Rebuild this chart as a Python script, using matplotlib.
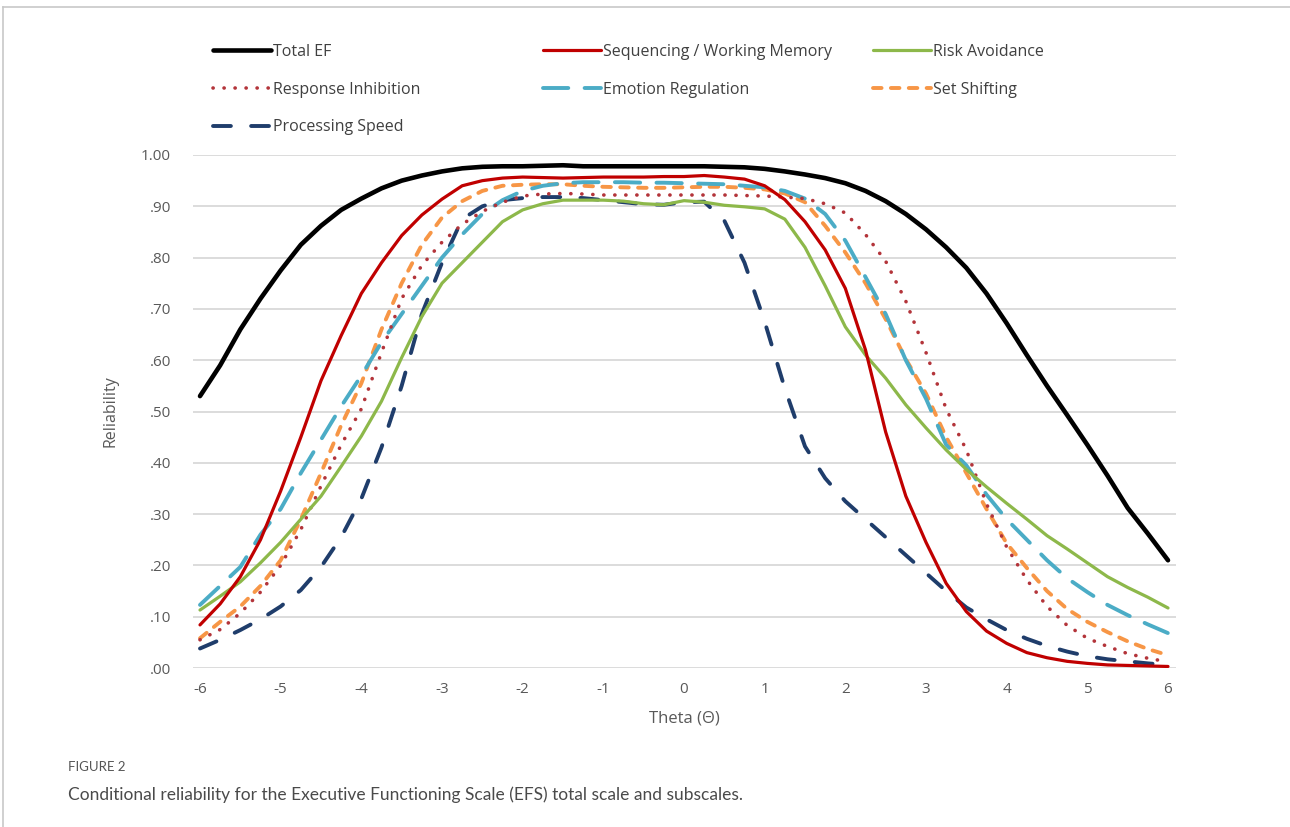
import numpy as np
import matplotlib.pyplot as plt
from matplotlib.lines import Line2D
from matplotlib.ticker import FuncFormatter

plt.rcParams['font.family'] = ['Open Sans', 'DejaVu Sans']
plt.rcParams['axes.unicode_minus'] = False

# theta grid (quarter steps) and conditional reliability
theta = [-6, -5.75, -5.5, -5.25, -5, -4.75, -4.5, -4.25, -4, -3.75, -3.5, -3.25,
         -3, -2.75, -2.5, -2.25, -2, -1.75, -1.5, -1.25, -1, -0.75, -0.5, -0.25,
         0, 0.25, 0.5, 0.75, 1, 1.25, 1.5, 1.75, 2, 2.25, 2.5, 2.75,
         3, 3.25, 3.5, 3.75, 4, 4.25, 4.5, 4.75, 5, 5.25, 5.5, 5.75, 6]

total_ef = [.53, .59, .66, .72, .775, .825, .862, .893, .915, .935, .95, .96,
            .968, .974, .977, .978, .978, .979, .98, .978, .978, .978, .978, .978,
            .978, .978, .977, .976, .973, .968, .962, .955, .945, .93, .91, .885,
            .855, .82, .78, .73, .672, .61, .55, .493, .435, .375, .312, .262, .21]
seq_wm = [.084, .125, .178, .25, .345, .45, .56, .648, .73, .79, .843, .883,
          .914, .94, .95, .955, .957, .956, .955, .956, .957, .957, .957, .958,
          .958, .96, .957, .953, .94, .913, .87, .815, .74, .62, .46, .335,
          .245, .165, .11, .072, .048, .03, .02, .013, .009, .006, .005, .004, .003]
risk_avoid = [.113, .14, .168, .205, .245, .29, .335, .393, .452, .52, .605, .685,
              .75, .79, .83, .87, .893, .905, .912, .912, .912, .91, .905, .903,
              .911, .908, .902, .899, .895, .875, .82, .745, .665, .61, .565, .513,
              .468, .425, .387, .353, .321, .29, .258, .232, .205, .178, .157, .138, .117]
resp_inhib = [.055, .075, .107, .148, .20, .27, .355, .435, .505, .615, .72, .785,
              .83, .865, .89, .908, .92, .924, .925, .924, .922, .922, .922, .922,
              .922, .922, .922, .921, .92, .918, .915, .905, .887, .845, .793, .715,
              .615, .505, .425, .32, .236, .172, .12, .083, .058, .042, .028, .019, .012]
emotion_reg = [.123, .16, .197, .26, .31, .38, .445, .51, .57, .635, .69, .745,
               .80, .845, .885, .912, .93, .94, .945, .947, .947, .947, .946, .946,
               .945, .944, .943, .94, .937, .93, .915, .885, .833, .762, .69, .60,
               .525, .435, .395, .338, .29, .25, .21, .175, .148, .123, .103, .085, .068]
set_shift = [.058, .09, .12, .16, .21, .29, .38, .473, .555, .66, .75, .825,
             .878, .91, .93, .94, .942, .943, .943, .94, .938, .937, .936, .936,
             .937, .938, .938, .936, .933, .925, .908, .862, .81, .75, .68, .602,
             .535, .45, .38, .31, .243, .195, .15, .115, .09, .07, .052, .037, .025]
proc_speed = [.038, .055, .074, .095, .12, .152, .197, .255, .33, .43, .55, .69,
              .79, .875, .90, .912, .916, .918, .918, .916, .912, .908, .904, .903,
              .908, .909, .872, .79, .675, .545, .432, .37, .325, .29, .255, .22,
              .185, .15, .118, .095, .074, .057, .043, .032, .023, .017, .013, .009, .006]

yticks = [0, .1, .2, .3, .4, .5, .6, .7, .8, .9, 1.0]
xticks = [-6, -5, -4, -3, -2, -1, 0, 1, 2, 3, 4, 5, 6]

fig = plt.figure(figsize=(12.9, 8.27), dpi=100)
ax = fig.add_axes([193 / 1290, 1 - 668 / 827, (1176 - 193) / 1290, (668 - 155) / 827])

unit = (1168 - 200) / 12
ax.set_xlim(-6 - 7 / unit, 6 + 8 / unit)
ax.set_ylim(0, 1)

styles = {
    'Total EF': dict(color='black', lw=3.3, solid_capstyle='round'),
    'Sequencing / Working Memory': dict(color='#c00000', lw=2.3, solid_capstyle='round'),
    'Risk Avoidance': dict(color='#8db84a', lw=2.3, solid_capstyle='round'),
    'Response Inhibition': dict(color='#b3343a', lw=2.6, dashes=(0.05, 3.0),
                                dash_capstyle='round'),
    'Emotion Regulation': dict(color='#4bacc6', lw=2.8, dashes=(6.5, 4.2),
                               dash_capstyle='round'),
    'Set Shifting': dict(color='#f79646', lw=2.8, dashes=(2.2, 2.4),
                         dash_capstyle='round'),
    'Processing Speed': dict(color='#1f3d6b', lw=2.8, dashes=(4.6, 5.2),
                             dash_capstyle='round'),
}
series = {
    'Total EF': total_ef,
    'Sequencing / Working Memory': seq_wm,
    'Risk Avoidance': risk_avoid,
    'Response Inhibition': resp_inhib,
    'Emotion Regulation': emotion_reg,
    'Set Shifting': set_shift,
    'Processing Speed': proc_speed,
}
order = ['Processing Speed', 'Set Shifting', 'Emotion Regulation', 'Response Inhibition',
         'Risk Avoidance', 'Sequencing / Working Memory', 'Total EF']
for name in order:
    ax.plot(theta, series[name], label=name, **styles[name])

# axes styling like excel
for s in ax.spines.values():
    s.set_visible(False)
ax.set_yticks(yticks)
ax.set_xticks(xticks)
ax.yaxis.set_major_formatter(FuncFormatter(lambda v, p: f"{v:.2f}" if v >= 1 else f"{v:.2f}"[1:]))
ax.grid(axis='y', color='#d9d9d9', lw=1.3)
ax.set_axisbelow(True)
ax.tick_params(length=0, labelsize=11, labelcolor='#595959')
ax.tick_params(axis='y', pad=16)
ax.tick_params(axis='x', pad=10)
ax.set_ylabel('Reliability', fontsize=11.5, color='#595959', labelpad=16)
ax.set_xlabel('Theta (\u0398)', fontsize=12, color='#595959', labelpad=10)

# legend in three columns
cols = [['Total EF', 'Response Inhibition', 'Processing Speed'],
        ['Sequencing / Working Memory', 'Emotion Regulation'],
        ['Risk Avoidance', 'Set Shifting']]
col_x = [213, 543, 873]
for names, cx in zip(cols, col_x):
    handles = [Line2D([], [], **styles[n]) for n in names]
    fig.legend(handles, names, loc='upper left',
               bbox_to_anchor=(cx / 1290, 1 - 44 / 827),
               frameon=False, fontsize=11.5, handlelength=3.6,
               handletextpad=0.15, labelspacing=1.36, borderpad=0,
               borderaxespad=0, labelcolor='#404040')

# frame lines of the figure panel
fig.add_artist(Line2D([3 / 1290, 1], [1 - 7 / 827, 1 - 7 / 827],
                      transform=fig.transFigure, color='#c8c8c8', lw=1.2))
fig.add_artist(Line2D([3 / 1290, 3 / 1290], [0, 1 - 7 / 827],
                      transform=fig.transFigure, color='#c8c8c8', lw=1.2))

fig.text(68 / 1290, 1 - 767 / 827, 'FIGURE 2', fontsize=9.5, color='#555555',
         va='center', family=['Lato', 'DejaVu Sans'])
fig.text(68 / 1290, 1 - 795 / 827,
         'Conditional reliability for the Executive Functioning Scale (EFS) total scale and subscales.',
         fontsize=12.5, color='#4a4a4a', va='center', family=['Lato', 'DejaVu Sans'])

fig.savefig('out.png', dpi=100)
